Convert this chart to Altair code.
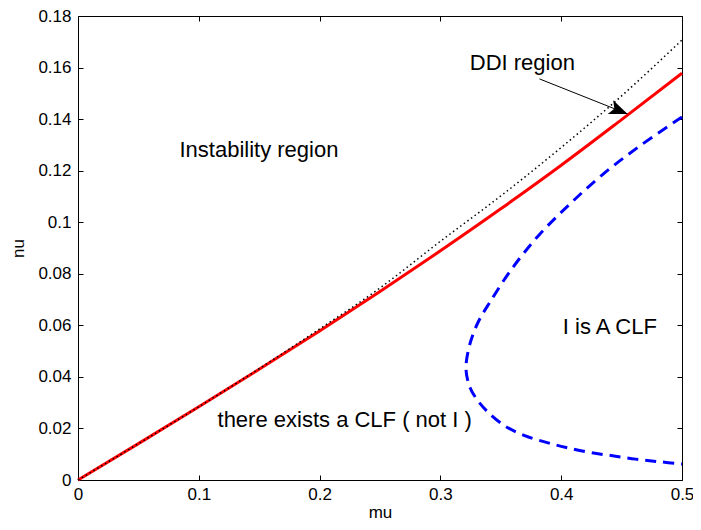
import altair as alt
import pandas as pd

# ---- data ----
mu_red = [0, 0.05, 0.1, 0.15, 0.2, 0.25, 0.3, 0.35, 0.4, 0.45, 0.5]
nu_red = [0, 0.0141, 0.0284, 0.0430, 0.0578, 0.0731, 0.0889, 0.1052, 0.1221, 0.1398, 0.1578]

mu_dot = [0, 0.05, 0.1, 0.15, 0.2, 0.25, 0.3, 0.35, 0.4, 0.45, 0.5]
nu_dot = [0, 0.0141, 0.0284, 0.0432, 0.0586, 0.0745, 0.0926, 0.1102, 0.1290, 0.1490, 0.1707]

mu_blue = [0.5, 0.4645, 0.4343, 0.4068, 0.3808, 0.3588, 0.3410, 0.3310, 0.3240, 0.3212,
           0.3245, 0.3300, 0.3383, 0.3533, 0.3698, 0.3877, 0.4041, 0.4233, 0.4425, 0.4617, 0.4809, 0.5]
nu_blue = [0.1408, 0.1294, 0.1185, 0.1069, 0.0946, 0.0817, 0.0690, 0.0610, 0.0520, 0.0430,
           0.0359, 0.0314, 0.0268, 0.0210, 0.0172, 0.0146, 0.0126, 0.0107, 0.0094, 0.0081, 0.0071, 0.0062]

x_ticks = [0, 0.1, 0.2, 0.3, 0.4, 0.5]
y_ticks = [0, 0.02, 0.04, 0.06, 0.08, 0.1, 0.12, 0.14, 0.16, 0.18]

label_text = ["Instability region", "DDI region", "I is A CLF", "there exists a CLF ( not I )"]
label_mu = [0.084, 0.3243, 0.4013, 0.1155]
label_nu = [0.1254, 0.1591, 0.0565, 0.0204]

arrow_mu = [0.382, 0.455]   # tail, tip
arrow_nu = [0.1556, 0.142]

FONT = "Liberation Sans"

red_df = pd.DataFrame({"mu": mu_red, "nu": nu_red})
dot_df = pd.DataFrame({"mu": mu_dot, "nu": nu_dot})
blue_df = pd.DataFrame({"mu": mu_blue, "nu": nu_blue, "i": list(range(len(mu_blue)))})
lab_df = pd.DataFrame({"mu": label_mu, "nu": label_nu, "t": label_text})
arr_df = pd.DataFrame({"mu": [arrow_mu[0]], "nu": [arrow_nu[0]],
                       "mu2": [arrow_mu[1]], "nu2": [arrow_nu[1]]})
tip_df = pd.DataFrame({"mu": [arrow_mu[1]], "nu": [arrow_nu[1]]})

xs = alt.Scale(domain=[0, 0.5], nice=False, zero=False)
ys = alt.Scale(domain=[0, 0.18], nice=False, zero=False)

common_ax = dict(grid=False, domain=False, tickSize=5, offset=-5, tickColor="black",
                 tickWidth=1, labelFont=FONT, titleFont=FONT, labelColor="black",
                 titleColor="black", labelFontSize=17, titleFontSize=17,
                 titleFontWeight="normal", labelFlush=False, labelOverlap=False)

x_bottom = alt.Axis(orient="bottom", values=x_ticks, format="~g", title="mu",
                    labelPadding=6, titlePadding=2, **common_ax)
y_left = alt.Axis(orient="left", values=y_ticks, format="~g", title="nu",
                  labelPadding=7, titlePadding=10, **common_ax)
x_top = alt.Axis(orient="top", values=x_ticks, labels=False, title=None, **common_ax)
y_right = alt.Axis(orient="right", values=y_ticks, labels=False, title=None, **common_ax)

red = alt.Chart(red_df).mark_line(color="#ff0000", strokeWidth=3, interpolate="monotone").encode(
    x=alt.X("mu:Q", scale=xs, axis=x_bottom),
    y=alt.Y("nu:Q", scale=ys, axis=y_left),
)

dot = alt.Chart(dot_df).mark_line(color="black", strokeWidth=1.5, strokeDash=[1.5, 3],
                                  interpolate="monotone").encode(
    x=alt.X("mu:Q", scale=xs, axis=x_top),
    y=alt.Y("nu:Q", scale=ys, axis=y_right),
)

blue = alt.Chart(blue_df).mark_line(color="#0000ff", strokeWidth=3, strokeDash=[11, 7],
                                    interpolate="catmull-rom").encode(
    x=alt.X("mu:Q", scale=xs, axis=None),
    y=alt.Y("nu:Q", scale=ys, axis=None),
    order="i:Q",
)

texts = alt.Chart(lab_df).mark_text(align="left", baseline="alphabetic", font=FONT,
                                    fontSize=22, color="black").encode(
    x=alt.X("mu:Q", scale=xs, axis=None),
    y=alt.Y("nu:Q", scale=ys, axis=None),
    text="t:N",
)

arrow_line = alt.Chart(arr_df).mark_rule(color="black", strokeWidth=1).encode(
    x=alt.X("mu:Q", scale=xs, axis=None),
    y=alt.Y("nu:Q", scale=ys, axis=None),
    x2="mu2:Q",
    y2="nu2:Q",
)

arrow_head = alt.Chart(tip_df).mark_point(
    shape="M0,0 L-0.8,2 L0,1.55 L0.8,2 Z", filled=True, color="black",
    size=340, angle=111.5, opacity=1, strokeWidth=0,
).encode(
    x=alt.X("mu:Q", scale=xs, axis=None),
    y=alt.Y("nu:Q", scale=ys, axis=None),
)

chart = alt.layer(red, dot, blue, texts, arrow_line, arrow_head).resolve_axis(
    x="independent", y="independent"
).properties(
    width=604, height=464,
    autosize=alt.AutoSizeParams(type="none"),
    padding={"left": 70, "top": 8, "right": 11, "bottom": 42},
    background="white",
).configure_view(stroke="black", strokeWidth=1)

chart.save("out.html", embed_options={"renderer": "svg", "actions": False})
